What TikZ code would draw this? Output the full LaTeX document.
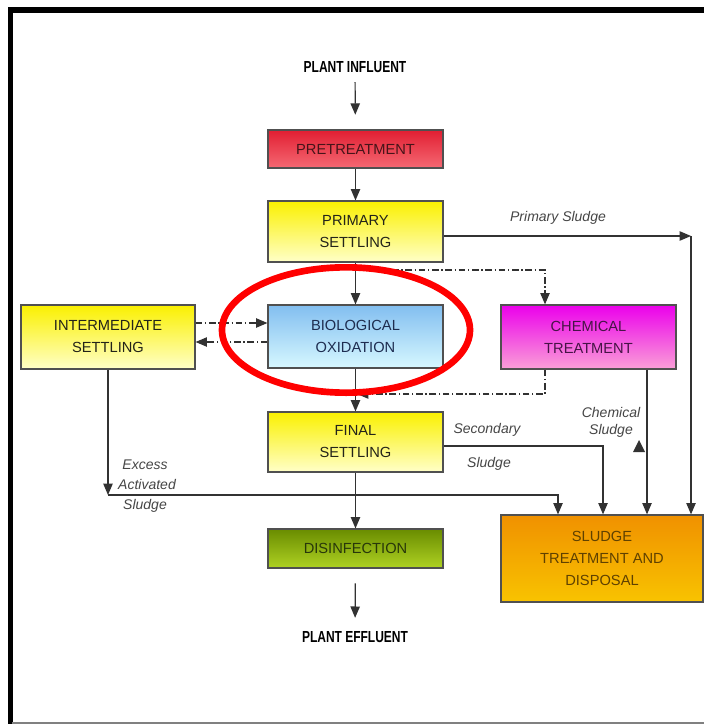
\documentclass[tikz,border=0pt]{standalone}
\usepackage{fontspec}
\setmainfont{Liberation Sans}
\newfontfamily\narrowfont[FakeStretch=0.75]{Liberation Sans}
\usetikzlibrary{arrows.meta}
\definecolor{boxborder}{RGB}{80,80,80}
\definecolor{linegray}{RGB}{50,50,50}
\definecolor{textdark}{RGB}{35,35,25}
\definecolor{lblgray}{RGB}{70,70,70}
\def\pxu{0.75pt}
\tikzset{
  box/.style={draw=boxborder, line width=0.9pt, align=center, text=textdark,
    font=\fontsize{11pt}{16.5pt}\selectfont, inner sep=0pt},
  yellowbox/.style={box, top color={rgb,255:red,250;green,240;blue,0}, bottom color={rgb,255:red,255;green,255;blue,200}},
  arr/.style={draw=linegray, line width=0.9pt, -{Triangle[length=8.5pt,width=7pt]}},
  dd/.style={dash pattern=on 5pt off 2pt on 1pt off 2pt},
  lbl/.style={font=\narrowfont\bfseries\fontsize{12pt}{13pt}\selectfont, text=black, inner sep=2pt},
  itl/.style={font=\itshape\fontsize{10.5pt}{12pt}\selectfont, text=lblgray, inner sep=0pt}
}
\begin{document}
\begin{tikzpicture}[x=0.75pt,y=-0.75pt]
\useasboundingbox (0,0) rectangle (704,724);
\fill[white] (0,0) rectangle (704,724);
% frame
\draw[line width=4.5pt] (8,10) -- (704,10);
\draw[line width=3.75pt] (10.5,8) -- (10.5,724);
\draw[line width=1.5pt, gray] (12,723) -- (704,723);

% boxes
\node[box, minimum width=175*\pxu, minimum height=38*\pxu, text={rgb,255:red,70;green,20;blue,25},
  top color={rgb,255:red,225;green,30;blue,50}, bottom color={rgb,255:red,245;green,105;blue,115}]
  (pre) at (355.5,149) {PRETREATMENT};
\node[yellowbox, minimum width=175*\pxu, minimum height=61*\pxu] (prim) at (355.5,231.5) {PRIMARY\\SETTLING};
\node[box, minimum width=175*\pxu, minimum height=63*\pxu, text={rgb,255:red,30;green,45;blue,80},
  top color={rgb,255:red,130;green,190;blue,240}, bottom color={rgb,255:red,215;green,248;blue,255}]
  (bio) at (355.5,336.5) {BIOLOGICAL\\OXIDATION};
\node[box, minimum width=175*\pxu, minimum height=64*\pxu, text={rgb,255:red,70;green,20;blue,70},
  top color={rgb,255:red,235;green,0;blue,235}, bottom color={rgb,255:red,250;green,160;blue,215}]
  (chem) at (588.5,337) {CHEMICAL\\TREATMENT};
\node[yellowbox, minimum width=174*\pxu, minimum height=64*\pxu] (inter) at (108,337) {INTERMEDIATE\\SETTLING};
\node[yellowbox, minimum width=175*\pxu, minimum height=60*\pxu] (final) at (355.5,442) {FINAL\\SETTLING};
\node[box, minimum width=175*\pxu, minimum height=39*\pxu, text={rgb,255:red,40;green,55;blue,10},
  top color={rgb,255:red,105;green,140;blue,0}, bottom color={rgb,255:red,175;green,210;blue,35}]
  (dis) at (355.5,548.5) {DISINFECTION};
\node[box, minimum width=202*\pxu, minimum height=87*\pxu, text={rgb,255:red,95;green,65;blue,0},
  top color={rgb,255:red,240;green,145;blue,0}, bottom color={rgb,255:red,248;green,195;blue,0}]
  (sludge) at (602,558.5) {SLUDGE\\TREATMENT AND\\DISPOSAL};

% terminal labels
\node[lbl] (inf) at (355,67) {PLANT INFLUENT};
\node[lbl] (eff) at (355,637) {PLANT EFFLUENT};

% coordinates
\coordinate (ps) at (691,236);
\coordinate (d1) at (392,270);
\coordinate (d2) at (545,270);
\coordinate (d3) at (545,394);
\coordinate (d4) at (357,394);
\coordinate (ia) at (0,323);
\coordinate (ib) at (0,342);
\coordinate (e1) at (108,495);
\coordinate (e2) at (558,495);
\coordinate (s1) at (603,446);
\coordinate (c1) at (647,369);

% main line
\draw[arr, shorten <=5pt, shorten >=11pt] (inf) -- (pre);
\draw[arr] (pre) -- (prim);
\draw[arr] (prim) -- (bio);
\draw[arr] (bio) -- (final);
\draw[arr] (final) -- (dis);
\draw[arr, shorten <=11pt, shorten >=8pt] (dis) -- (eff);

% primary sludge
\draw[arr] (prim.east |- ps) -- (ps);
\draw[arr] (ps) -- (ps |- sludge.north);
% dash-dot to chemical treatment
\draw[arr, dd] (d1) -- (d2) -- (d2 |- chem.north);
\draw[arr, dd] (d2 |- chem.south) -- (d3) -- (d4);
% intermediate settling exchange
\draw[arr, dd] (inter.east |- ia) -- (bio.west |- ia);
\draw[arr, dd] (bio.west |- ib) -- (inter.east |- ib);
% excess activated sludge
\draw[arr] (inter.south) -- (e1);
\draw[arr] (e1) -- (e2) -- (e2 |- sludge.north);
% secondary sludge
\draw[arr] (final.east |- s1) -- (s1) -- (s1 |- sludge.north);
% chemical sludge
\draw[arr] (chem.south -| c1) -- (c1 |- sludge.north);
\fill[linegray] (633,452) -- (645,452) -- (639,440) -- cycle;

% italic labels
\node[itl] (lps) at (558,218) {Primary Sludge};
\node[itl] (lsec1) at (487,430) {Secondary};
\node[itl] (lsec2) at (489,464) {Sludge};
\node[itl] (lch1) at (611,412) {Chemical};
\node[itl] (lch2) at (611,431) {Sludge};
\node[itl] (lex1) at (145,465) {Excess};
\node[itl] (lex2) at (147,484) {Activated};
\node[itl] (lex3) at (145,506) {Sludge};

% red highlight ellipse
\draw[red, line width=5pt] (346,330) ellipse [x radius=93pt, y radius=47pt];
\end{tikzpicture}
\end{document}
